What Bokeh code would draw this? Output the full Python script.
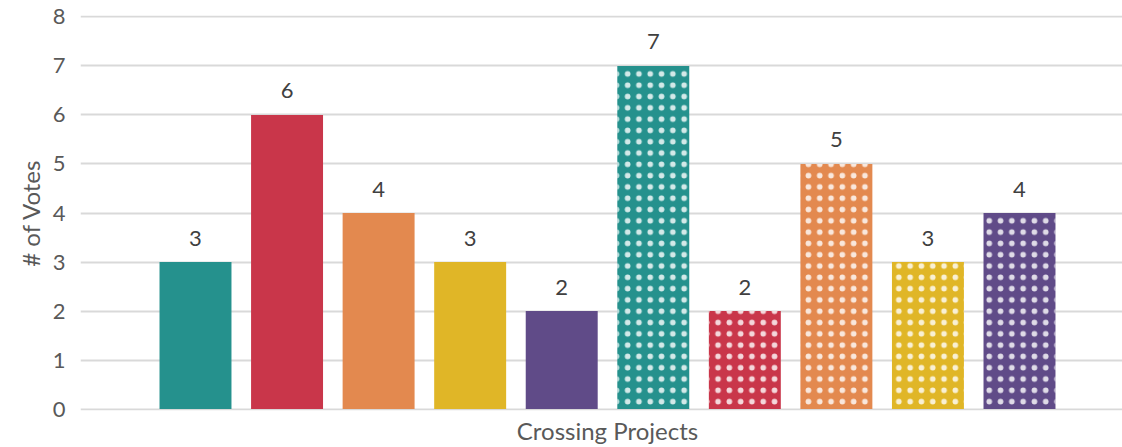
from bokeh.plotting import figure
from bokeh.models import ColumnDataSource, Range1d, FixedTicker
from bokeh.core.properties import value
from bokeh.embed import file_html
from bokeh.resources import INLINE

# ---- data ----
projects = ["Project 1", "Project 2", "Project 3", "Project 4", "Project 5",
            "Project 6", "Project 7", "Project 8", "Project 9", "Project 10"]
votes = [3, 6, 4, 3, 2, 7, 2, 5, 3, 4]
colors = ["#25918D", "#C9364A", "#E3894F", "#E0B627", "#604B88",
          "#25918D", "#C9364A", "#E3894F", "#E0B627", "#604B88"]
dotted = [False, False, False, False, False, True, True, True, True, True]
category = "Crossing Projects"
y_ticks = [0, 1, 2, 3, 4, 5, 6, 7, 8]

FONT = "Lato"

xs = list(range(len(votes)))
solid_idx = [i for i in xs if not dotted[i]]
dot_idx = [i for i in xs if dotted[i]]


def src(idx):
    return ColumnDataSource(dict(
        x=[xs[i] for i in idx],
        v=[votes[i] for i in idx],
        c=[colors[i] for i in idx],
        name=[projects[i] for i in idx],
        lbl=[str(votes[i]) for i in idx],
    ))


s_solid = src(solid_idx)
s_dot = src(dot_idx)
s_all = src(xs)

p = figure(width=1122, height=447, output_backend="svg", toolbar_location=None,
           x_range=Range1d(-1.256, 10.125), y_range=Range1d(-0.03, 8.03),
           min_border_left=80, min_border_right=0, min_border_top=15, min_border_bottom=34)
p.outline_line_color = None
p.background_fill_color = "white"
p.border_fill_color = "white"

p.vbar(x="x", top="v", width=0.786, bottom=0, source=s_solid,
       fill_color="c", line_color="c", line_width=0)
p.vbar(x="x", top="v", width=0.786, bottom=0, source=s_dot,
       fill_color="c", line_color="c", line_width=0,
       hatch_pattern="dot", hatch_color="white", hatch_alpha=0.8,
       hatch_scale=11.3, hatch_weight=0.05)

p.text(x="x", y="v", text="lbl", source=s_all, y_offset=-24,
       text_align="center", text_baseline="middle",
       text_font=value(FONT), text_font_size="22px", text_color="#404040")

# grid
p.xgrid.grid_line_color = None
p.ygrid.grid_line_color = "#D9D9D9"
p.ygrid.grid_line_width = 2
p.yaxis.ticker = FixedTicker(ticks=y_ticks)

# y axis
p.yaxis.axis_line_color = None
p.yaxis.major_tick_line_color = None
p.yaxis.minor_tick_line_color = None
p.yaxis.major_tick_out = 0
p.yaxis.major_label_standoff = 15
p.yaxis.major_label_text_font = FONT
p.yaxis.major_label_text_font_size = "22px"
p.yaxis.major_label_text_color = "#595959"
p.yaxis.axis_label = "# of Votes"
p.yaxis.axis_label_text_font = FONT
p.yaxis.axis_label_text_font_style = "normal"
p.yaxis.axis_label_text_font_size = "24px"
p.yaxis.axis_label_text_color = "#595959"
p.yaxis.axis_label_standoff = 5

# x axis: single category label centered under the group
center = sum(xs) / len(xs)
p.xaxis.ticker = FixedTicker(ticks=[center])
p.xaxis.major_label_overrides = {center: category}
p.xaxis.axis_line_color = None
p.xaxis.major_tick_line_color = None
p.xaxis.minor_tick_line_color = None
p.xaxis.major_tick_out = 0
p.xaxis.major_label_standoff = 5
p.xaxis.major_label_text_font = FONT
p.xaxis.major_label_text_font_size = "24px"
p.xaxis.major_label_text_color = "#595959"

open("out.html", "w").write(file_html(p, INLINE))
